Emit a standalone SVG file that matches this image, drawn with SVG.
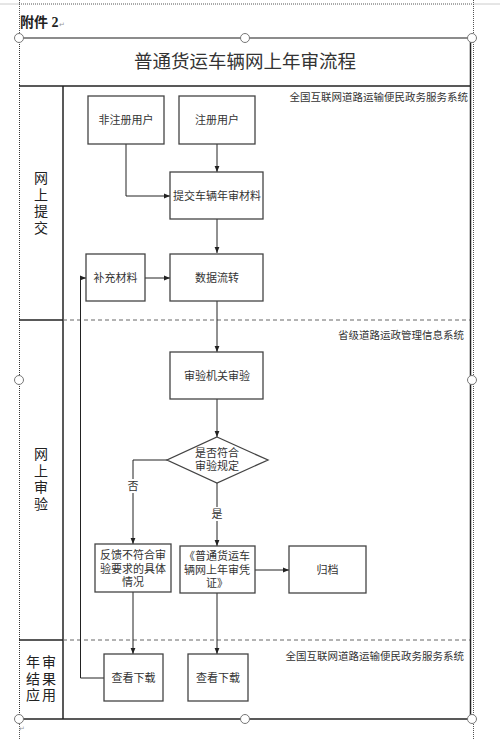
<svg xmlns="http://www.w3.org/2000/svg" width="500" height="739" viewBox="0 0 500 739">
<defs>
<marker id="ah" viewBox="0 0 10 10" refX="10" refY="5" markerWidth="6" markerHeight="6" orient="auto" markerUnits="userSpaceOnUse">
<path d="M0,1 L10,5 L0,9 z" fill="#222"/>
</marker>
<style>
.t{font-family:"Noto Sans CJK SC","Noto Sans",sans-serif;fill:#333;}
.box{fill:#fff;stroke:#444;stroke-width:1.3;}
.c{fill:none;stroke:#222;stroke-width:1;}
.frame{stroke:#222;stroke-width:1.5;fill:none;}
.dash{stroke:#666;stroke-width:1;stroke-dasharray:4,3;fill:none;}
.dot{stroke:#555;stroke-width:1;stroke-dasharray:1,1;fill:none;}
.h{fill:#fff;stroke:#777;stroke-width:1;}
.lane{font-size:14px;fill:#222;}
.bt{font-size:11px;}
.sys{font-size:10.5px;}
</style>
</defs>
<rect width="500" height="739" fill="#fff"/>
<!-- page margins -->
<g id="page">
<line x1="0" y1="4" x2="19" y2="4" stroke="#ccc"/>
<line x1="473" y1="4" x2="500" y2="4" stroke="#ccc"/>
<line class="dot" x1="19" y1="4" x2="473" y2="4"/>
<line class="dot" x1="19.5" y1="0" x2="19.5" y2="739"/>
<line class="dot" x1="473.5" y1="0" x2="473.5" y2="739"/>
<text x="20" y="27" font-family="'Liberation Serif','Noto Sans CJK SC',serif" font-weight="bold" font-size="14" fill="#222">附件 2<tspan font-size="7" fill="#999" font-weight="normal">↵</tspan></text>
<text x="19" y="731" font-family="'Liberation Serif',serif" font-size="7" fill="#999">↵</text>
</g>
<!-- frame -->
<g id="frame">
<line x1="19" y1="38" x2="472" y2="38" stroke="#666" stroke-width="1.5"/>
<line class="frame" x1="19" y1="86" x2="470" y2="86"/>
<line class="frame" x1="470.5" y1="38" x2="470.5" y2="719"/>
<line x1="19.5" y1="38" x2="19.5" y2="719" stroke="#333" stroke-width="1" stroke-dasharray="1,1"/>
<line class="frame" x1="19" y1="719" x2="472" y2="719"/>
<line class="frame" x1="63" y1="86" x2="63" y2="719"/>
<line class="frame" x1="19" y1="320" x2="63" y2="320"/>
<line class="frame" x1="19" y1="640" x2="63" y2="640"/>
<line class="dash" x1="63" y1="320" x2="470" y2="320"/>
<line class="dash" x1="63" y1="640" x2="470" y2="640"/>
<text class="t" x="245" y="68" font-size="18.5" text-anchor="middle" fill="#111">普通货运车辆网上年审流程</text>
</g>
<!-- lanes -->
<g id="lane1">
<text class="t lane" x="41" y="183" text-anchor="middle">网</text>
<text class="t lane" x="41" y="199.5" text-anchor="middle">上</text>
<text class="t lane" x="41" y="216" text-anchor="middle">提</text>
<text class="t lane" x="41" y="232.5" text-anchor="middle">交</text>
<text class="t sys" x="468" y="101" text-anchor="end">全国互联网道路运输便民政务服务系统</text>
</g>
<g id="lane2">
<text class="t lane" x="41" y="459" text-anchor="middle">网</text>
<text class="t lane" x="41" y="475.5" text-anchor="middle">上</text>
<text class="t lane" x="41" y="492" text-anchor="middle">审</text>
<text class="t lane" x="41" y="508.5" text-anchor="middle">验</text>
<text class="t sys" x="464" y="339" text-anchor="end">省级道路运政管理信息系统</text>
</g>
<g id="lane3">
<text class="t lane" x="33" y="667" text-anchor="middle">年</text>
<text class="t lane" x="49" y="667" text-anchor="middle">审</text>
<text class="t lane" x="33" y="683.5" text-anchor="middle">结</text>
<text class="t lane" x="49" y="683.5" text-anchor="middle">果</text>
<text class="t lane" x="33" y="700" text-anchor="middle">应</text>
<text class="t lane" x="49" y="700" text-anchor="middle">用</text>
<text class="t sys" x="464" y="660" text-anchor="end">全国互联网道路运输便民政务服务系统</text>
</g>
<!-- connectors -->
<g id="connectors">
<polyline class="c" points="126,144 126,196 170,196" marker-end="url(#ah)"/>
<line class="c" x1="217" y1="144" x2="217" y2="172" marker-end="url(#ah)"/>
<line class="c" x1="217" y1="219" x2="217" y2="253" marker-end="url(#ah)"/>
<line class="c" x1="145" y1="278" x2="170" y2="278" marker-end="url(#ah)"/>
<line class="c" x1="217" y1="301" x2="217" y2="352" marker-end="url(#ah)"/>
<line class="c" x1="217" y1="399" x2="217" y2="437" marker-end="url(#ah)"/>
<polyline class="c" points="167,460 133,460 133,544" marker-end="url(#ah)"/>
<line class="c" x1="217" y1="483" x2="217" y2="546" marker-end="url(#ah)"/>
<line class="c" x1="255" y1="570" x2="289" y2="570" marker-end="url(#ah)"/>
<line class="c" x1="133" y1="592" x2="133" y2="654" marker-end="url(#ah)"/>
<line class="c" x1="217" y1="593" x2="217" y2="654" marker-end="url(#ah)"/>
<polyline class="c" points="104,678 80.5,678 80.5,278 86,278" marker-end="url(#ah)"/>
<rect x="126" y="479" width="14" height="14" fill="#fff"/>
<text class="t" x="133" y="490" font-size="11" text-anchor="middle">否</text>
<rect x="210" y="507" width="14" height="14" fill="#fff"/>
<text class="t" x="217" y="518" font-size="11" text-anchor="middle">是</text>
</g>
<!-- nodes -->
<g id="n-unreg">
<rect class="box" x="88" y="96" width="76" height="48"/>
<text class="t bt" x="126" y="124" text-anchor="middle">非注册用户</text>
</g>
<g id="n-reg">
<rect class="box" x="179" y="96" width="76" height="48"/>
<text class="t bt" x="217" y="124" text-anchor="middle">注册用户</text>
</g>
<g id="n-submit">
<rect class="box" x="170" y="172" width="93" height="47"/>
<text class="t bt" x="217" y="200" text-anchor="middle">提交车辆年审材料</text>
</g>
<g id="n-supp">
<rect class="box" x="86" y="254" width="59" height="47"/>
<text class="t bt" x="115.5" y="282" text-anchor="middle">补充材料</text>
</g>
<g id="n-flow">
<rect class="box" x="170" y="254" width="93" height="47"/>
<text class="t bt" x="217" y="282" text-anchor="middle">数据流转</text>
</g>
<g id="n-audit">
<rect class="box" x="170" y="352" width="93" height="47"/>
<text class="t bt" x="217" y="380" text-anchor="middle">审验机关审验</text>
</g>
<g id="n-decide">
<polygon class="box" points="217,437 268,460 217,483 167,460"/>
<text class="t bt" x="217" y="457" text-anchor="middle">是否符合</text>
<text class="t bt" x="217" y="470" text-anchor="middle">审验规定</text>
</g>
<g id="n-feedback">
<rect class="box" x="95" y="544" width="76" height="48"/>
<text class="t bt" x="133" y="559" text-anchor="middle">反馈不符合审</text>
<text class="t bt" x="133" y="572.5" text-anchor="middle">验要求的具体</text>
<text class="t bt" x="133" y="586" text-anchor="middle">情况</text>
</g>
<g id="n-cert">
<rect class="box" x="180" y="546" width="75" height="47"/>
<text class="t bt" x="217" y="560" text-anchor="middle">《普通货运车</text>
<text class="t bt" x="217" y="573.5" text-anchor="middle">辆网上年审凭</text>
<text class="t bt" x="217" y="587" text-anchor="middle">证》</text>
</g>
<g id="n-archive">
<rect class="box" x="289" y="546" width="77" height="47"/>
<text class="t bt" x="327.5" y="574" text-anchor="middle">归档</text>
</g>
<g id="n-dl1">
<rect class="box" x="104" y="654" width="59" height="47"/>
<text class="t bt" x="133.5" y="682" text-anchor="middle">查看下载</text>
</g>
<g id="n-dl2">
<rect class="box" x="188" y="654" width="60" height="47"/>
<text class="t bt" x="218" y="682" text-anchor="middle">查看下载</text>
</g>
<!-- handles -->
<g id="handles">
<circle class="h" cx="19" cy="38" r="4.5"/>
<circle class="h" cx="245" cy="38" r="4.5"/>
<circle class="h" cx="472" cy="38" r="4.5"/>
<circle class="h" cx="19" cy="380" r="4.5"/>
<circle class="h" cx="472" cy="380" r="4.5"/>
<circle class="h" cx="19" cy="719" r="4.5"/>
<circle class="h" cx="245" cy="719" r="4.5"/>
<circle class="h" cx="472" cy="719" r="4.5"/>
</g>
</svg>
